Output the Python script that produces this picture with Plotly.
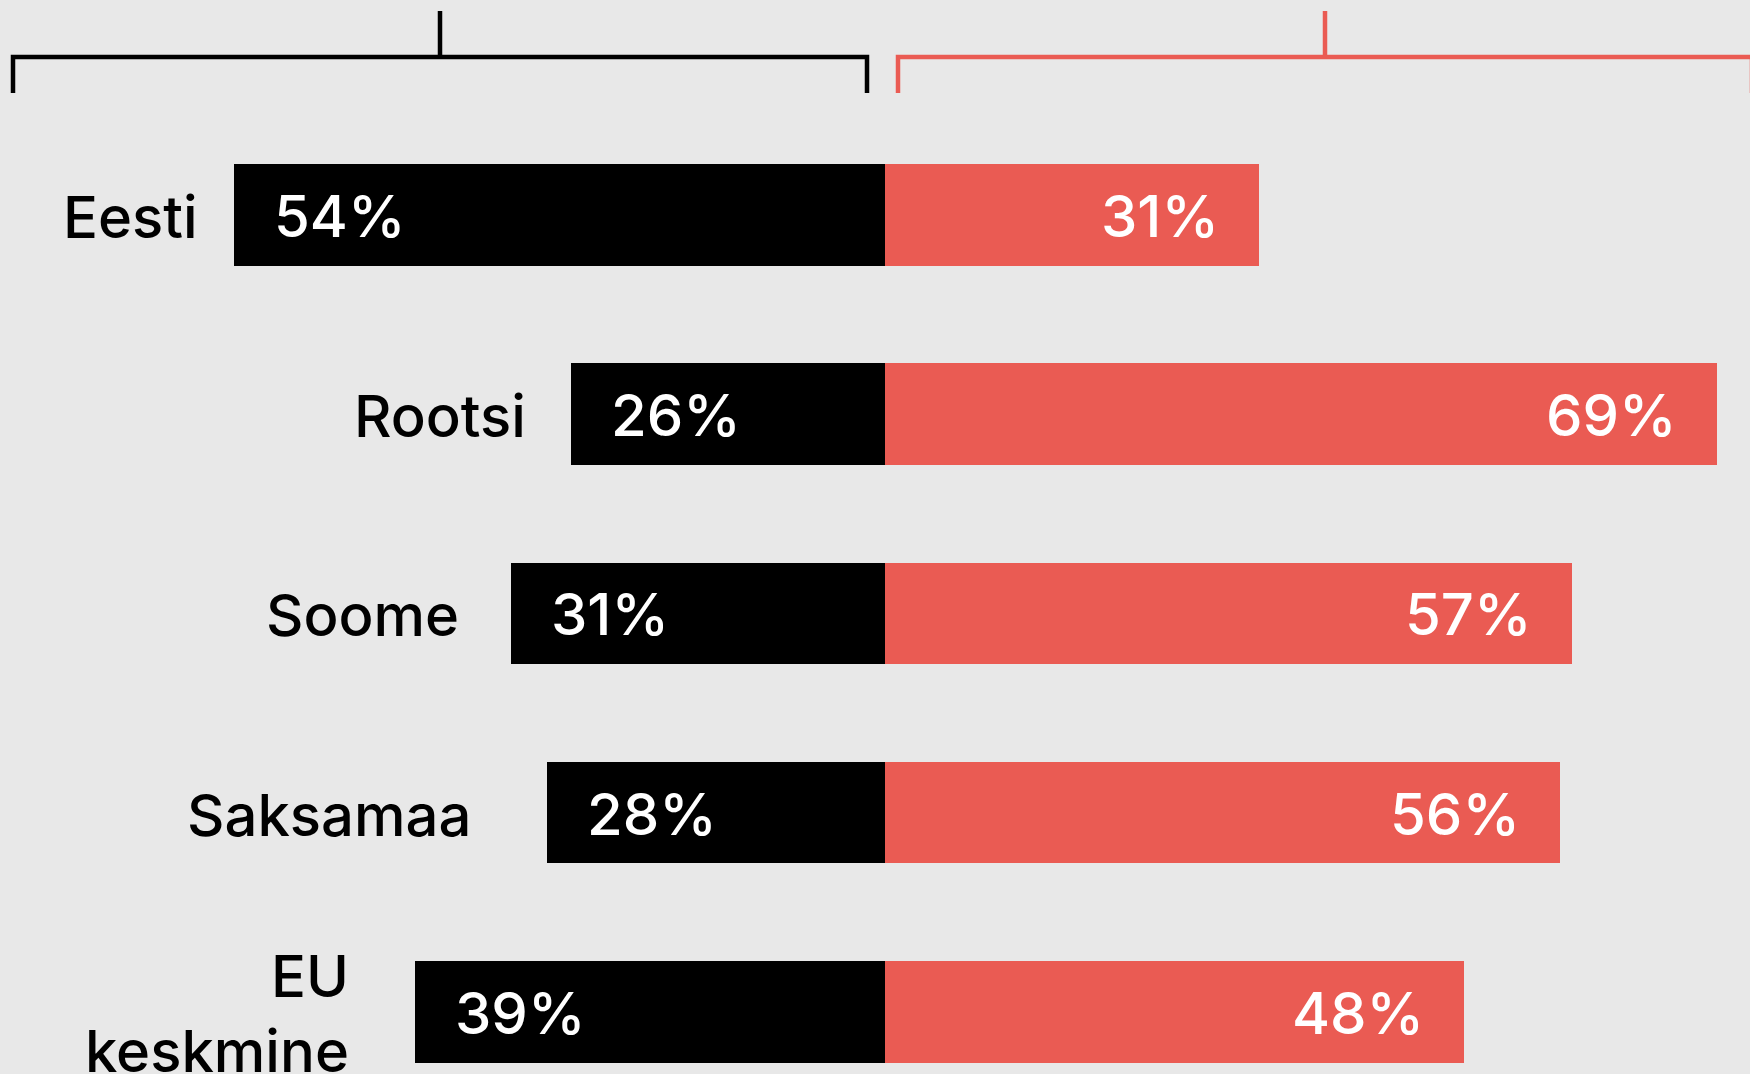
import plotly.graph_objects as go

# Survey shares by country (percent)
categories = ["Eesti", "Rootsi", "Soome", "Saksamaa", "EU<br>keskmine"]
left_values = [54, 26, 31, 28, 39]    # black bars, drawn to the left
right_values = [31, 69, 57, 56, 48]   # red bars, drawn to the right

# styling
BG = "#e8e8e8"
BLACK = "#000000"
RED = "#ea5b53"
FONT = "Inter"
FSIZE = 58
FWEIGHT = 500
W, H = 1750, 1074
label_gaps = [34, 43, 50, 74, 64]  # px gap between country label and bar

fig = go.Figure()
fig.add_trace(go.Bar(
    y=categories, x=[-v for v in left_values], orientation="h",
    marker=dict(color=BLACK, line=dict(width=0)), width=0.51,
    hoverinfo="skip",
))
fig.add_trace(go.Bar(
    y=categories, x=right_values, orientation="h",
    marker=dict(color=RED, line=dict(width=0)), width=0.51,
    hoverinfo="skip",
))

annotations = []
for cat, lv, rv, gap in zip(categories, left_values, right_values, label_gaps):
    annotations.append(dict(
        x=-lv, y=cat, xref="x", yref="y", text=f"{lv}%",
        xanchor="left", yanchor="middle", xshift=38, yshift=-1, showarrow=False,
        font=dict(family=FONT, size=FSIZE, color="white", weight=FWEIGHT),
    ))
    annotations.append(dict(
        x=rv, y=cat, xref="x", yref="y", text=f"{rv}%",
        xanchor="right", yanchor="middle", xshift=-38, yshift=-1, showarrow=False,
        font=dict(family=FONT, size=FSIZE, color="white", weight=FWEIGHT),
    ))
    annotations.append(dict(
        x=-lv, y=cat, xref="x", yref="y", text=cat,
        xanchor="right", yanchor="middle", align="right",
        xshift=-gap, yshift=-2, showarrow=False,
        font=dict(family=FONT, size=FSIZE, color=BLACK, weight=FWEIGHT),
    ))


def px(x, y):
    return x / W, 1 - y / H


def bracket(x0, x1, xc, y_line, y_foot, y_top):
    pts = [px(x0, y_foot), px(x0, y_line), px(x1, y_line), px(x1, y_foot)]
    d = "M " + " L ".join(f"{a},{b}" for a, b in pts)
    c0, c1 = px(xc, y_line), px(xc, y_top)
    d += f" M {c0[0]},{c0[1]} L {c1[0]},{c1[1]}"
    return d


shapes = [
    dict(type="path", xref="paper", yref="paper",
         path=bracket(13, 867, 440, 57, 93, 11),
         line=dict(color=BLACK, width=4.5)),
    dict(type="path", xref="paper", yref="paper",
         path=bracket(898, 1752, 1325, 57, 93, 11),
         line=dict(color=RED, width=4.5)),
]

fig.update_layout(
    width=W, height=H,
    margin=dict(l=0, r=0, t=0, b=0),
    paper_bgcolor=BG, plot_bgcolor=BG,
    barmode="relative", bargap=0,
    showlegend=False,
    annotations=annotations,
    shapes=shapes,
    xaxis=dict(range=[-885 / 12.06, 865 / 12.06], visible=False, fixedrange=True),
    yaxis=dict(type="category", range=[4.312, -1.079], visible=False, fixedrange=True),
)

fig.write_html("out.html", config=dict(displayModeBar=False))
